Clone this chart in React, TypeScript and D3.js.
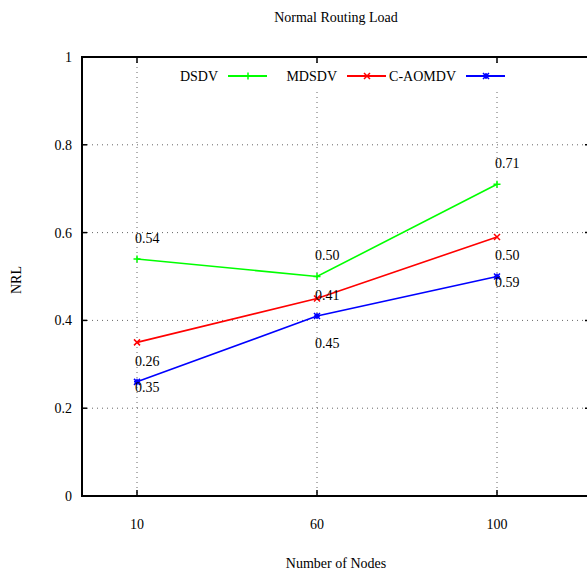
import React from "react";
import { scaleLinear, scalePoint, line } from "d3";

const nodes = ["10", "60", "100"];
const seriesNames = ["DSDV", "MDSDV", "C-AOMDV"];
const dsdv = [0.54, 0.5, 0.71];
const mdsdv = [0.35, 0.45, 0.59];
const caomdv = [0.26, 0.41, 0.5];
const yTicks = [0, 0.2, 0.4, 0.6, 0.8, 1];
const yTickLabels = ["0", "0.2", "0.4", "0.6", "0.8", "1"];

const colors = ["#00ff00", "#ff0000", "#0000ff"];
const marks = ["plus", "cross", "star"];
// label offset (in NRL units) as placed in the original plot
const labelShift = [0.037, -0.113, 0.037];

const width = 587;
const height = 572;
const margin = { top: 57, left: 82, bottom: 496, right: 590 };
const font = "'Liberation Serif', 'Times New Roman', serif";

function Marker({ type, x, y, color }) {
  const s = type === "plus" ? 3.5 : 3;
  const plus = `M${x - s},${y}H${x + s}M${x},${y - s}V${y + s}`;
  const cross = `M${x - s},${y - s}L${x + s},${y + s}M${x - s},${y + s}L${x + s},${y - s}`;
  const d = type === "plus" ? plus : type === "cross" ? cross : plus + cross;
  return <path d={d} stroke={color} strokeWidth={1.5} fill="none" />;
}

export default function App() {
  const data = [dsdv, mdsdv, caomdv];
  const x = scalePoint().domain(nodes).range([137, 497]);
  const y = scaleLinear().domain([0, 1]).range([margin.bottom, margin.top]);
  const path = line<number>()
    .x((_, i) => x(nodes[i]))
    .y((d) => y(d));

  return (
    <svg width={width} height={height} style={{ display: "block", position: "absolute", left: 0, top: 0 }}>
      <rect width={width} height={height} fill="white" />
      <g fontFamily={font} fontSize={14} fill="black">
        {/* grid */}
        {yTicks.slice(1, -1).map((t) => (
          <line key={"gy" + t} x1={margin.left} x2={margin.right} y1={y(t)} y2={y(t)}
            stroke="#666" strokeWidth={1} strokeDasharray="1 4" />
        ))}
        {nodes.map((n) => (
          <line key={"gx" + n} x1={x(n)} x2={x(n)} y1={margin.top} y2={margin.bottom}
            stroke="#666" strokeWidth={1} strokeDasharray="1 4" />
        ))}

        {/* ticks */}
        {yTicks.map((t) => (
          <g key={"ty" + t}>
            <line x1={margin.left} x2={margin.left + 5} y1={y(t)} y2={y(t)} stroke="black" strokeWidth={1.5} />
            <line x1={margin.right - 5} x2={margin.right} y1={y(t)} y2={y(t)} stroke="black" strokeWidth={1.5} />
          </g>
        ))}
        {nodes.map((n) => (
          <g key={"tx" + n}>
            <line x1={x(n)} x2={x(n)} y1={margin.bottom} y2={margin.bottom - 6} stroke="black" strokeWidth={1.5} />
            <line x1={x(n)} x2={x(n)} y1={margin.top} y2={margin.top + 6} stroke="black" strokeWidth={1.5} />
          </g>
        ))}

        {/* legend */}
        <rect x={176} y={65} width={338} height={25} fill="white" />
        {seriesNames.map((name, i) => {
          const lx = 218 + i * 119;
          return (
            <g key={name}>
              <text x={lx} y={81} textAnchor="end">{name}</text>
              <line x1={lx + 10} x2={lx + 49} y1={76} y2={76} stroke={colors[i]} strokeWidth={2} />
              <Marker type={marks[i]} x={lx + 30} y={76} color={colors[i]} />
            </g>
          );
        })}

        {/* frame */}
        <rect x={margin.left} y={margin.top} width={margin.right - margin.left} height={margin.bottom - margin.top}
          fill="none" stroke="black" strokeWidth={2} />

        {/* series */}
        {data.map((vals, i) => (
          <g key={"s" + i}>
            <path d={path(vals)} fill="none" stroke={colors[i]} strokeWidth={1.6} />
            {vals.map((v, j) => (
              <Marker key={j} type={marks[i]} x={x(nodes[j])} y={y(v)} color={colors[i]} />
            ))}
          </g>
        ))}

        {/* value labels */}
        {data.map((vals, i) =>
          vals.map((v, j) => (
            <text key={"l" + i + j} x={x(nodes[j]) - 2} y={y(v + labelShift[i])}>
              {v.toFixed(2)}
            </text>
          ))
        )}

        {/* axis labels */}
        {yTicks.map((t, i) => (
          <text key={"yl" + t} x={72} y={y(t) + 5} textAnchor="end">{yTickLabels[i]}</text>
        ))}
        {nodes.map((n) => (
          <text key={"xl" + n} x={x(n)} y={529} textAnchor="middle">{n}</text>
        ))}
        <text x={336} y={22} textAnchor="middle">Normal Routing Load</text>
        <text x={336} y={568} textAnchor="middle">Number of Nodes</text>
        <text transform={`translate(21,280) rotate(-90)`} textAnchor="middle">NRL</text>
      </g>
    </svg>
  );
}
